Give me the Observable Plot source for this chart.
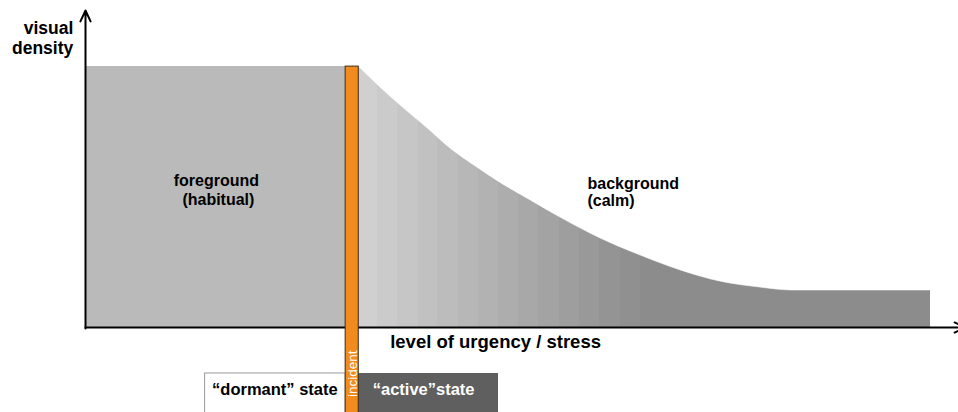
<!DOCTYPE html>
<html>
<head>
<meta charset="utf-8">
<script src="https://cdn.jsdelivr.net/npm/d3@7"></script>
<script src="https://cdn.jsdelivr.net/npm/@observablehq/plot@0.6"></script>
<style>
  html, body { margin: 0; padding: 0; background: #fff; }
  #chart { width: 958px; height: 412px; overflow: hidden; }
</style>
</head>
<body>
<div id="chart"></div>
<script>
// Conceptual chart: level of urgency (x, 0-100) vs visual density (y, 0-100)
const densityMax = 82.3;           // foreground (habitual) density
const incidentStart = 29.8;        // start of the incident band
const incidentEnd = 31.3;          // end of the incident band
const calmEnd = 96.8;              // end of the background region

// Background (calm) density curve after the incident
const curveX = [31.3, 33.8, 36.1, 39.2, 41.8, 44.7, 47.5, 51.0, 54.4, 59.0, 63.6, 68.2, 72.7, 77.3, 80.8, 96.8];
const curveY = [82.3, 75.7, 70.0, 62.8, 56.5, 50.8, 45.7, 40.1, 34.7, 28.1, 22.7, 18.0, 14.5, 12.6, 11.7, 11.7];

// Stepped shading bands under the curve
const bandEdges = [31.3, 33.5, 35.7, 38.1, 40.3, 42.7, 45.0, 47.3, 49.6, 51.9, 54.3, 56.6, 58.9, 61.3, 63.6];
const bandShades = ["#d0d0d0", "#cbcbcb", "#c6c6c6", "#c1c1c1", "#bcbcbc", "#b7b7b7", "#b2b2b2", "#adadad", "#a8a8a8", "#a3a3a3", "#9e9e9e", "#999999", "#949494", "#909090"];

const yLabel = "visual\ndensity";
const xLabel = "level of urgency / stress";
const fgLabels = ["foreground", "(habitual)"];
const bgLabels = ["background", "(calm)"];
const stateLabels = ["“dormant” state", "“active”state"];
const incidentLabel = "incident";

const curve = curveX.map((x, i) => ({x, y: curveY[i]}));
const bands = bandShades.map((c, i) => ({x1: bandEdges[i], x2: bandEdges[i + 1], fill: c}));

const font = "'Liberation Sans', Arial, Helvetica, sans-serif";
const crisp = {shapeRendering: "crispEdges"};

const chart = Plot.plot({
  width: 958,
  height: 412,
  marginLeft: 85,
  marginRight: 0,
  marginTop: 10,
  marginBottom: 85,
  x: {domain: [0, 100], axis: null},
  y: {domain: [0, 100], axis: null},
  style: {background: "#fff", fontFamily: font, overflow: "visible"},
  marks: [
    // foreground block
    Plot.rect([{x1: 0, x2: incidentStart, y1: 0, y2: densityMax}], {x1: "x1", x2: "x2", y1: "y1", y2: "y2", fill: "#bababa", ...crisp}),
    // stepped bands
    Plot.rect(bands, {x1: "x1", x2: "x2", y1: 0, y2: densityMax, fill: d => d.fill, ...crisp}),
    Plot.rect([{x1: bandEdges[bandEdges.length - 1], x2: calmEnd}], {x1: "x1", x2: "x2", y1: 0, y2: densityMax, fill: "#8c8c8c", ...crisp}),
    // mask above the curve
    Plot.areaY(curve, {x: "x", y1: "y", y2: densityMax + 0.6, fill: "#fff", curve: "monotone-x", stroke: "#fff", strokeWidth: 0.6}),
    // axes
    Plot.arrow([{x1: 0, y1: -0.3, x2: 0, y2: 100}], {x1: "x1", y1: "y1", x2: "x2", y2: "y2", stroke: "#000", strokeWidth: 2, headLength: 9, headAngle: 50}),
    Plot.arrow([{x1: 0, y1: 0, x2: 100.8, y2: 0}], {x1: "x1", y1: "y1", x2: "x2", y2: "y2", stroke: "#000", strokeWidth: 2, headLength: 9, headAngle: 50}),
    // state boxes
    Plot.rect([{x1: 13.7, x2: incidentStart}], {x1: "x1", x2: "x2", y1: -14.5, y2: -30, fill: "#fff", stroke: "#9a9a9a", strokeWidth: 1}),
    Plot.rect([{x1: incidentEnd, x2: 47.3}], {x1: "x1", x2: "x2", y1: -14.5, y2: -30, fill: "#5f5f5f", ...crisp}),
    // incident band
    Plot.rect([{x1: incidentStart, x2: incidentEnd}], {x1: "x1", x2: "x2", y1: densityMax, y2: -30, fill: "#f28b1e", stroke: "#3b2a18", strokeWidth: 1}),
    Plot.text([incidentLabel], {x: (incidentStart + incidentEnd) / 2, y: -14.6, text: d => d, rotate: -90, fill: "#fff", fontSize: 13.5, textAnchor: "middle"}),
    // labels
    Plot.text([yLabel], {x: -1.4, y: 91.5, text: d => d, textAnchor: "end", lineAnchor: "middle", fontSize: 17.5, fontWeight: "bold", lineHeight: 1.15, fill: "#000"}),
    Plot.text([xLabel], {x: 34.9, y: -4.7, text: d => d, textAnchor: "start", fontSize: 18.5, fontWeight: "bold", fill: "#000"}),
    Plot.text([fgLabels[0]], {x: 10.1, y: 46.1, text: d => d, textAnchor: "start", fontSize: 16, fontWeight: "bold", fill: "#000"}),
    Plot.text([fgLabels[1]], {x: 11.1, y: 40.4, text: d => d, textAnchor: "start", fontSize: 16, fontWeight: "bold", fill: "#000"}),
    Plot.text([bgLabels[0]], {x: 57.5, y: 45.4, text: d => d, textAnchor: "start", fontSize: 16, fontWeight: "bold", fill: "#000"}),
    Plot.text([bgLabels[1]], {x: 57.5, y: 40.1, text: d => d, textAnchor: "start", fontSize: 16, fontWeight: "bold", fill: "#000"}),
    Plot.text([stateLabels[0]], {x: 14.5, y: -19.6, text: d => d, textAnchor: "start", fontSize: 16.5, fontWeight: "bold", fill: "#000"}),
    Plot.text([stateLabels[1]], {x: 32.9, y: -19.6, text: d => d, textAnchor: "start", fontSize: 16.5, fontWeight: "bold", fill: "#fff"})
  ]
});
document.getElementById("chart").appendChild(chart);
</script>
</body>
</html>
